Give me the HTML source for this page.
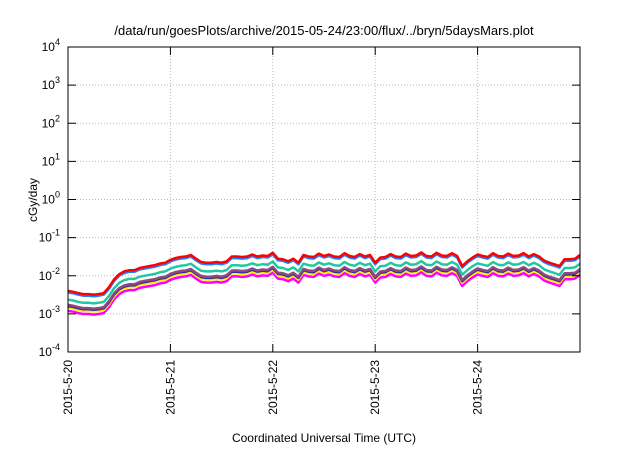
<!DOCTYPE html>
<html><head><meta charset="utf-8"><style>
body{margin:0;background:#fff}
svg text{font-family:"Liberation Sans",sans-serif;fill:#000}
</style></head><body>
<svg id="c" width="640" height="448" viewBox="0 0 640 448">
<text x="324" y="35" font-size="13" text-anchor="middle">/data/run/goesPlots/archive/2015-05-24/23:00/flux/../bryn/5daysMars.plot</text>
<text transform="translate(37,200) rotate(-90)" font-size="12" text-anchor="middle">cGy/day</text>
<text x="324" y="442" font-size="12" text-anchor="middle">Coordinated Universal Time (UTC)</text>
<g id="grid"></g><g id="series"></g><g id="axes"></g>
</svg>
<script>
const dayLabels=["2015-5-20","2015-5-21","2015-5-22","2015-5-23","2015-5-24"];
const yExponents=[-4,-3,-2,-1,0,1,2,3,4];
// top (red) series, cGy/day, sampled every 0.05 day from 2015-5-20 00:00
const redValues=[0.0040,0.0038,0.0035,0.0033,0.0033,0.0032,0.0033,0.0035,0.0050,0.0080,
0.011,0.013,0.014,0.014,0.016,0.017,0.018,0.019,0.021,0.022,
0.026,0.029,0.031,0.032,0.035,0.028,0.023,0.022,0.022,0.023,
0.022,0.024,0.032,0.032,0.031,0.032,0.036,0.032,0.034,0.033,
0.040,0.028,0.027,0.024,0.028,0.022,0.035,0.032,0.031,0.038,
0.033,0.036,0.032,0.031,0.039,0.033,0.031,0.037,0.032,0.035,
0.022,0.030,0.031,0.037,0.032,0.031,0.038,0.033,0.034,0.041,
0.033,0.032,0.040,0.034,0.033,0.039,0.033,0.018,0.024,0.030,
0.036,0.033,0.031,0.039,0.033,0.032,0.038,0.033,0.034,0.039,
0.032,0.037,0.032,0.025,0.022,0.020,0.018,0.027,0.027,0.028,0.035];
const step=0.05;
const seriesNames=["magenta","yellow","dark-blue","purple","teal","blue","red"];
const seriesFactors=[0.30,0.36,0.40,0.43,0.59,0.91,1.0];
const seriesColors=["#ff00ff","#ffee00","#3030a0","#904880","#20c8a0","#2080ff","#ff0000"];
const L=68,R=580,T=47,B=352;
const xs=d=>L+(R-L)*d/5;
const ys=v=>T+(B-T)*(4-Math.log10(v))/8;
const NS="http://www.w3.org/2000/svg";
function mk(t,a,p){const e=document.createElementNS(NS,t);for(const k in a)e.setAttribute(k,a[k]);p.appendChild(e);return e;}
const grid=document.getElementById('grid'),axes=document.getElementById('axes'),sg=document.getElementById('series');
yExponents.forEach(ex=>{const y=ys(Math.pow(10,ex));
 if(ex>-4&&ex<4){const g=mk('line',{x1:L,x2:R,y1:y,y2:y,stroke:'#bbb','stroke-dasharray':'1,2'},grid);
 
 }
 mk('line',{x1:L,x2:L+8,y1:y,y2:y,stroke:'#000'},axes);mk('line',{x1:R,x2:R-8,y1:y,y2:y,stroke:'#000'},axes);
 const t=mk('text',{x:L-8,y:y+4,'font-size':12,'text-anchor':'end'},axes);
 
 
 t.textContent='10';const s=mk('tspan',{dy:-6,'font-size':9},t);s.textContent=String(ex);});
dayLabels.forEach((lb,i)=>{const x=xs(i);
 if(i>0){const g=mk('line',{x1:x,x2:x,y1:T,y2:B,stroke:'#bbb','stroke-dasharray':'1,2'},grid);
 
 }
 mk('line',{x1:x,x2:x,y1:B,y2:B-8,stroke:'#000'},axes);mk('line',{x1:x,x2:x,y1:T,y2:T+8,stroke:'#000'},axes);
 const t=mk('text',{transform:`translate(${x+4},${B+8}) rotate(-90)`,'font-size':12,'text-anchor':'end'},axes);
 
 
 t.textContent=lb;});
const fr=mk('rect',{x:L,y:T,width:R-L,height:B-T,fill:'none',stroke:'#000','stroke-width':1},axes);


seriesNames.forEach((n,k)=>{const pts=redValues.map((v,i)=>xs(i*step).toFixed(1)+','+ys(v*seriesFactors[k]).toFixed(1)).join(' ');
 const p=mk('polyline',{points:pts,fill:'none',stroke:seriesColors[k],'stroke-width':2.5,'stroke-linejoin':'round'},sg);
 
 });
</script>
</body></html>
